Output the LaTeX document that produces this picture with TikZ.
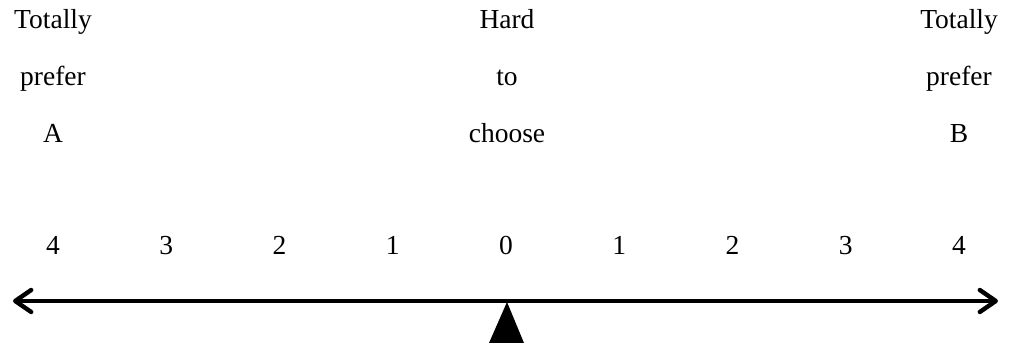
\documentclass[tikz,border=0pt]{standalone}
\usepackage{fontspec}
\setmainfont{Liberation Serif}
\usetikzlibrary{arrows.meta}
\begin{document}
\begin{tikzpicture}[x=1pt,y=-1pt,
  lbl/.style={anchor=base,inner sep=0pt,font=\fontsize{27.5}{32}\selectfont},
  barb/.tip={Straight Barb[length=16pt,width=22pt,line width=4.4pt,round]},
  axisline/.style={line width=3.6pt,barb-barb}]
\useasboundingbox[fill=white] (0,0) rectangle (1013,347);
\node[lbl] (ta1) at (53,29) {Totally};
\node[lbl] (ta2) at (53,86) {prefer};
\node[lbl] (ta3) at (53,143) {A};
\node[lbl] (h1) at (507,29) {Hard};
\node[lbl] (h2) at (507,86) {to};
\node[lbl] (h3) at (507,143) {choose};
\node[lbl] (tb1) at (959,29) {Totally};
\node[lbl] (tb2) at (959,86) {prefer};
\node[lbl] (tb3) at (959,143) {B};
\foreach \lab [count=\i from 0] in {4,3,2,1,0,1,2,3,4}
  \node[lbl] (n\i) at (53+113.25*\i,255) {\lab};
\coordinate (L) at (13,301);
\coordinate (R) at (998,301);
\draw[axisline] (L) -- (R);
\coordinate (apex) at (507,302);
\fill (apex) -- (524,343) -- (489,343) -- cycle;
\end{tikzpicture}
\end{document}
